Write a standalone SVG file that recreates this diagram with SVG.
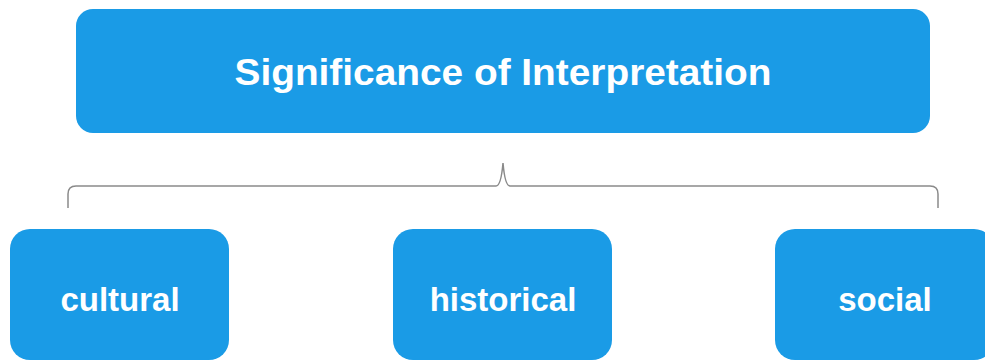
<svg xmlns="http://www.w3.org/2000/svg" width="985" height="362" viewBox="0 0 985 362">
  <style>
    .box { fill: #1a9be6; }
    .label { fill: #ffffff; font-family: "Liberation Sans", Arial, sans-serif; font-weight: bold; text-anchor: middle; }
    .title { font-size: 37px; }
    .item { font-size: 33px; }
    .brace { fill: none; stroke: #8a8a8a; stroke-width: 1.5; }
  </style>
  <rect width="985" height="362" fill="#ffffff"/>

  <g id="connectors">
    <path class="brace" d="M68,208 V194 Q68,186 76,186 H496 Q501,186 503,163 Q505,186 510,186 H930 Q938,186 938,194 V208"/>
  </g>

  <g id="node-title">
    <rect class="box" x="76" y="9" width="854" height="124" rx="17"/>
    <text class="label title" x="503" y="85" textLength="537" lengthAdjust="spacingAndGlyphs">Significance of Interpretation</text>
  </g>

  <g id="node-cultural">
    <rect class="box" x="10" y="229" width="219" height="131" rx="20"/>
    <text class="label item" x="120" y="311">cultural</text>
  </g>

  <g id="node-historical">
    <rect class="box" x="393" y="229" width="219" height="131" rx="20"/>
    <text class="label item" x="503" y="311">historical</text>
  </g>

  <g id="node-social">
    <rect class="box" x="775" y="229" width="219" height="131" rx="20"/>
    <text class="label item" x="885" y="311">social</text>
  </g>
</svg>
